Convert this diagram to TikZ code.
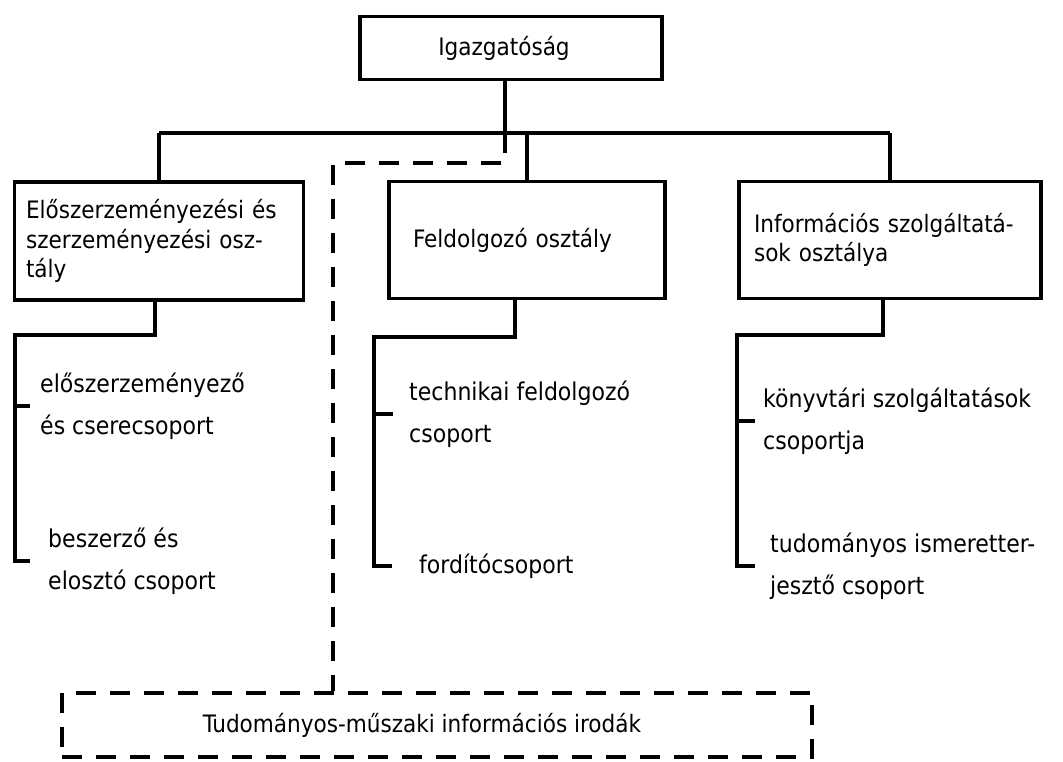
\documentclass[tikz,border=0pt]{standalone}
\usepackage{fontspec}
\setmainfont{DejaVu Sans Condensed}
\usetikzlibrary{positioning}
\newcommand\boxfont{\fontsize{24}{29.5}\selectfont}
\newcommand\itemfont{\fontsize{24.5}{42}\selectfont}
\tikzset{
  unit/.style={draw, line width=3.2pt, inner sep=0pt, align=left, font=\boxfont},
  item/.style={anchor=west, align=left, inner sep=0pt, font=\itemfont},
  link/.style={line width=3.2pt},
  dlink/.style={line width=3.2pt, dash pattern=on 20pt off 14pt},
}
\begin{document}
\begin{tikzpicture}[x=1pt, y=-1pt]
\useasboundingbox (0,0) rectangle (1063,762);
% vezetes es osztalyok
\node[unit, minimum width=302pt, minimum height=63pt, align=center] (igaz) at (511,48) {Igazgatóság\hspace*{14pt}};
\node[unit, minimum width=289pt, minimum height=118pt, text width=266pt] (elo) at (159,241)
  {Előszerzeményezési és\\szerzeményezési osz-\\tály};
\node[unit, minimum width=276pt, minimum height=117pt, text width=228pt] (fel) at (527,240)
  {Feldolgozó osztály};
\node[unit, minimum width=302pt, minimum height=117pt, text width=272pt] (inf) at (890,240)
  {Információs szolgáltatá-\\sok osztálya};
\node[unit, dlink, minimum width=750pt, minimum height=64pt, align=center] (tmi) at (437,725)
  {Tudományos-műszaki információs irodák\hspace*{30pt}};
% csoportok
\node[item] (e1) at (40,406) {előszerzeményező\\és cserecsoport};
\node[item] (e2) at (48,561) {beszerző és\\elosztó csoport};
\node[item] (f1) at (409,414) {technikai feldolgozó\\csoport};
\node[item] (f2) at (419,566) {fordítócsoport};
\node[item] (i1) at (763,421) {könyvtári szolgáltatások\\csoportja};
\node[item] (i2) at (770,566) {tudományos ismeretter-\\jesztő csoport};
% vonalak
\coordinate (bus) at (0,133);
\coordinate (eloK) at (15,335);
\coordinate (felK) at (374,337);
\coordinate (infK) at (737,335);
\coordinate (dk) at (333,163);
\draw[link] (elo.north |- bus) -- (inf.north |- bus);
\draw[link] ([xshift=-6pt]igaz.south) -- ([xshift=-6pt]igaz.south |- bus);
\draw[link] (elo.north) -- (elo.north |- bus);
\draw[link] (fel.north) -- (fel.north |- bus);
\draw[link] (inf.north) -- (inf.north |- bus);
\draw[link] ([xshift=-4pt]elo.south) |- (eloK) |- ([xshift=-18pt]e2.west);
\draw[link] (eloK |- e1.west) -- ([xshift=-10pt]e1.west);
\draw[link] ([xshift=-12pt]fel.south) |- (felK) |- ([xshift=-27pt]f2.west);
\draw[link] (felK |- f1.west) -- ([xshift=-16pt]f1.west);
\draw[link] ([xshift=-7pt]inf.south) |- (infK) |- ([xshift=-15pt]i2.west);
\draw[link] (infK |- i1.west) -- ([xshift=-8pt]i1.west);
\draw[dlink] ([xshift=-6pt]igaz.south |- bus) |- (dk) -- (dk |- tmi.north);
\end{tikzpicture}
\end{document}
